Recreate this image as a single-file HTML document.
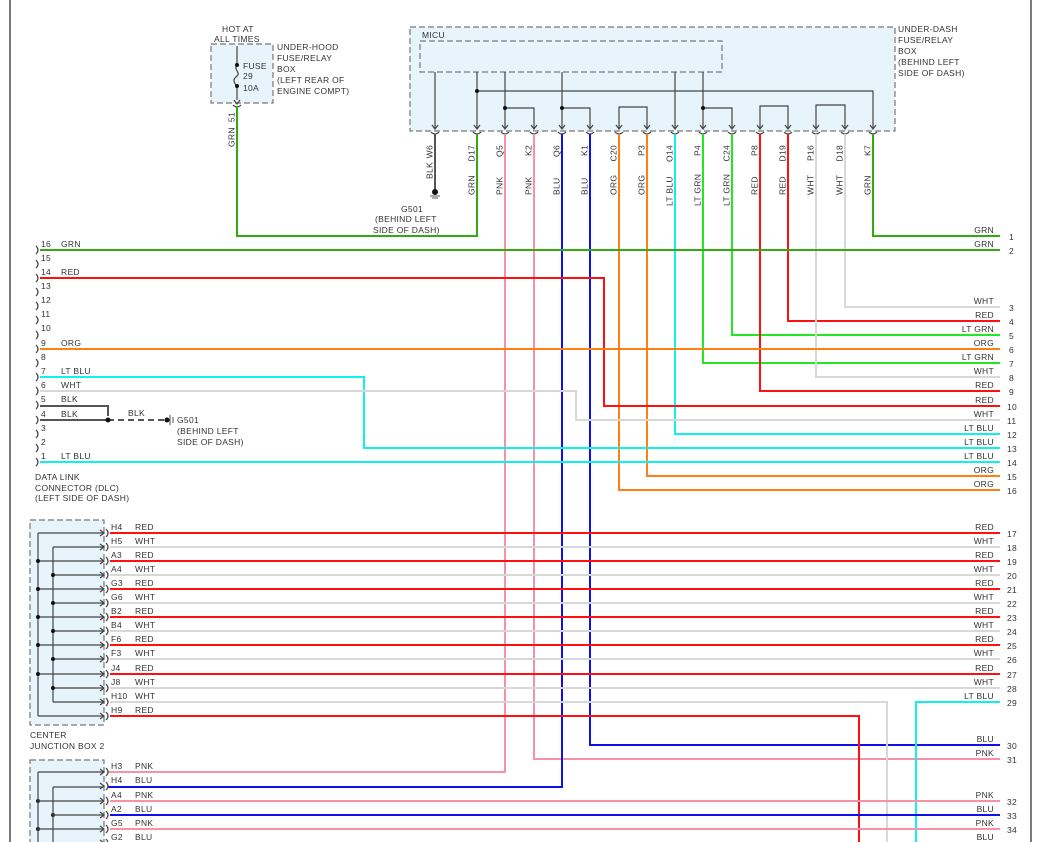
<!DOCTYPE html>
<html><head><meta charset="utf-8"><style>
html,body{margin:0;padding:0;background:#fff}
svg{display:block}
text{font-family:"Liberation Sans",sans-serif;font-size:8.5px;fill:#333;letter-spacing:.3px}
.w{fill:none;stroke-width:2}
.g{stroke:#33aa11}.r{stroke:#ff1010}.o{stroke:#ff8010}.c{stroke:#10f0f0}.lg{stroke:#22e822}
.wh{stroke:#d8d8d8}.b{stroke:#1010ee}.p{stroke:#f890a8}.k{stroke:#555}
.i{fill:none;stroke:#444;stroke-width:1.2}
.bx{fill:#e8f4fb;stroke:#777;stroke-width:1.2;stroke-dasharray:6,3}
.e{text-anchor:end}
</style></head><body>
<svg width="1040" height="842" viewBox="0 0 1040 842" xmlns="http://www.w3.org/2000/svg">
<line x1="10" y1="0" x2="10" y2="842" stroke="#222" stroke-width="1.2"/>
<line x1="1031" y1="0" x2="1031" y2="842" stroke="#222" stroke-width="1.2"/>

<rect class="bx" x="211" y="44" width="62" height="59"/>
<rect class="bx" x="410" y="27" width="485" height="104"/>
<rect class="bx" x="420" y="41" width="302" height="31"/>
<rect class="bx" x="30" y="520" width="74" height="205"/>
<rect class="bx" x="30" y="760" width="74" height="90"/>

<path class="i" d="M237 46V65M237 86V100"/>
<path class="i" d="M237 65c-4 4 4 8 0 11s-4 6 0 10"/>
<circle cx="237" cy="65" r="2" fill="#111"/><circle cx="237" cy="86" r="2" fill="#111"/>
<text x="222" y="32">HOT AT</text><text x="214" y="42">ALL TIMES</text>
<text x="243" y="69">FUSE</text><text x="243" y="79">29</text><text x="243" y="91">10A</text>
<text x="277" y="50">UNDER-HOOD</text><text x="277" y="61">FUSE/RELAY</text><text x="277" y="72">BOX</text><text x="277" y="83">(LEFT REAR OF</text><text x="277" y="94">ENGINE COMPT)</text>
<text x="422" y="38">MICU</text>
<text x="898" y="32">UNDER-DASH</text><text x="898" y="43">FUSE/RELAY</text><text x="898" y="54">BOX</text><text x="898" y="65">(BEHIND LEFT</text><text x="898" y="76">SIDE OF DASH)</text>

<path class="i" d="M435 72V128M477 72V128M505 72V128M562 72V128M675 72V128M703 72V128"/>
<path class="i" d="M477 91H873V128M505 108H534V128M562 108H590V128M703 108H732V128M619 128V107H647V128M760 128V106H788V128M816 128V105H845V128"/>
<g fill="#111"><circle cx="477" cy="91" r="2"/><circle cx="505" cy="108" r="2"/><circle cx="562" cy="108" r="2"/><circle cx="703" cy="108" r="2"/></g>
<g class="i">
<path d="M432 125l3 4 3-4M474 125l3 4 3-4M502 125l3 4 3-4M531 125l3 4 3-4M559 125l3 4 3-4M587 125l3 4 3-4M616 125l3 4 3-4M644 125l3 4 3-4M672 125l3 4 3-4M700 125l3 4 3-4M729 125l3 4 3-4M757 125l3 4 3-4M785 125l3 4 3-4M813 125l3 4 3-4M842 125l3 4 3-4M870 125l3 4 3-4M234 100l3 4 3-4"/>
<path d="M431 132q4 4 8 0M473 132q4 4 8 0M501 132q4 4 8 0M530 132q4 4 8 0M558 132q4 4 8 0M586 132q4 4 8 0M615 132q4 4 8 0M643 132q4 4 8 0M671 132q4 4 8 0M699 132q4 4 8 0M728 132q4 4 8 0M756 132q4 4 8 0M784 132q4 4 8 0M812 132q4 4 8 0M841 132q4 4 8 0M869 132q4 4 8 0M233 105q4 4 8 0"/>
</g>

<g>
<text transform="translate(234.5,112) rotate(-90)" class="e">51</text>
<text transform="translate(234.5,147) rotate(-90)">GRN</text>
<text transform="translate(432.5,145) rotate(-90)" class="e">W6</text>
<text transform="translate(432.5,179) rotate(-90)">BLK</text>
<text transform="translate(474.5,145) rotate(-90)" class="e">D17</text><text transform="translate(474.5,195) rotate(-90)">GRN</text>
<text transform="translate(502.5,145) rotate(-90)" class="e">Q5</text><text transform="translate(502.5,195) rotate(-90)">PNK</text>
<text transform="translate(531.5,145) rotate(-90)" class="e">K2</text><text transform="translate(531.5,195) rotate(-90)">PNK</text>
<text transform="translate(559.5,145) rotate(-90)" class="e">Q6</text><text transform="translate(559.5,195) rotate(-90)">BLU</text>
<text transform="translate(587.5,145) rotate(-90)" class="e">K1</text><text transform="translate(587.5,195) rotate(-90)">BLU</text>
<text transform="translate(616.5,145) rotate(-90)" class="e">C20</text><text transform="translate(616.5,195) rotate(-90)">ORG</text>
<text transform="translate(644.5,145) rotate(-90)" class="e">P3</text><text transform="translate(644.5,195) rotate(-90)">ORG</text>
<text transform="translate(672.5,145) rotate(-90)" class="e">O14</text><text transform="translate(672.5,206) rotate(-90)">LT BLU</text>
<text transform="translate(700.5,145) rotate(-90)" class="e">P4</text><text transform="translate(700.5,206) rotate(-90)">LT GRN</text>
<text transform="translate(729.5,145) rotate(-90)" class="e">C24</text><text transform="translate(729.5,206) rotate(-90)">LT GRN</text>
<text transform="translate(757.5,145) rotate(-90)" class="e">P8</text><text transform="translate(757.5,195) rotate(-90)">RED</text>
<text transform="translate(785.5,145) rotate(-90)" class="e">D19</text><text transform="translate(785.5,195) rotate(-90)">RED</text>
<text transform="translate(813.5,145) rotate(-90)" class="e">P16</text><text transform="translate(813.5,195) rotate(-90)">WHT</text>
<text transform="translate(842.5,145) rotate(-90)" class="e">D18</text><text transform="translate(842.5,195) rotate(-90)">WHT</text>
<text transform="translate(870.5,145) rotate(-90)" class="e">K7</text><text transform="translate(870.5,195) rotate(-90)">GRN</text>
</g>

<path class="w k" d="M435 134V190"/>
<circle cx="435" cy="192" r="3" fill="#111"/><path d="M430 196h10M432 198h6" stroke="#555"/>
<text x="401" y="212">G501</text><text x="375" y="222">(BEHIND LEFT</text><text x="373" y="233">SIDE OF DASH)</text>

<path class="w g" d="M477 134V236H237V106"/>
<path class="w g" d="M873 134V236H1000"/>
<path class="w p" d="M505 134V772H108"/>
<path class="w p" d="M534 134V759H1000"/>
<path class="w b" d="M562 134V787H108"/>
<path class="w b" d="M590 134V745H1000"/>
<path class="w o" d="M619 134V490H1000"/>
<path class="w o" d="M647 134V476H1000"/>
<path class="w c" d="M675 134V434H1000"/>
<path class="w lg" d="M703 134V363H1000"/>
<path class="w lg" d="M732 134V335H1000"/>
<path class="w r" d="M760 134V391H1000"/>
<path class="w r" d="M788 134V321H1000"/>
<path class="w wh" d="M816 134V377H1000"/>
<path class="w wh" d="M845 134V307H1000"/>

<path class="w g" d="M40 250H1000"/>
<path class="w r" d="M40 278H604V406H1000"/>
<path class="w o" d="M40 349H1000"/>
<path class="w c" d="M40 377H364V448H1000"/>
<path class="w wh" d="M40 391H576V420H1000"/>
<path class="w c" d="M40 462H1000"/>
<path class="w k" d="M40 406H108V416M40 420H108"/>
<path d="M108 420H167" stroke="#555" stroke-width="2" stroke-dasharray="6,4"/>
<circle cx="108" cy="420" r="2.5" fill="#111"/><circle cx="167" cy="420" r="2.5" fill="#111"/>
<path d="M170 415v10M173 417v6" stroke="#555"/>
<text x="128" y="416">BLK</text>
<text x="177" y="423">G501</text><text x="177" y="434">(BEHIND LEFT</text><text x="177" y="445">SIDE OF DASH)</text>
<g class="i">
<path d="M36 246q4 4 0 8M36 260q4 4 0 8M36 274q4 4 0 8M36 288q4 4 0 8M36 302q4 4 0 8M36 316q4 4 0 8M36 331q4 4 0 8M36 345q4 4 0 8M36 359q4 4 0 8M36 373q4 4 0 8M36 387q4 4 0 8M36 401q4 4 0 8M36 416q4 4 0 8M36 430q4 4 0 8M36 444q4 4 0 8M36 458q4 4 0 8"/>
</g>
<text x="41" y="247">16</text><text x="41" y="261">15</text><text x="41" y="275">14</text><text x="41" y="289">13</text><text x="41" y="303">12</text><text x="41" y="317">11</text><text x="41" y="331">10</text><text x="41" y="346">9</text><text x="41" y="360">8</text><text x="41" y="374">7</text><text x="41" y="388">6</text><text x="41" y="402">5</text><text x="41" y="417">4</text><text x="41" y="431">3</text><text x="41" y="445">2</text><text x="41" y="459">1</text>
<text x="61" y="247">GRN</text><text x="61" y="275">RED</text><text x="61" y="346">ORG</text><text x="61" y="374">LT BLU</text><text x="61" y="388">WHT</text><text x="61" y="402">BLK</text><text x="61" y="417">BLK</text><text x="61" y="459">LT BLU</text>
<text x="35" y="480">DATA LINK</text><text x="35" y="491">CONNECTOR (DLC)</text><text x="35" y="501">(LEFT SIDE OF DASH)</text>

<path class="w r" d="M110 533H1000M110 561H1000M110 589H1000M110 617H1000M110 645H1000M110 674H1000"/>
<path class="w wh" d="M110 547H1000M110 575H1000M110 603H1000M110 631H1000M110 659H1000M110 688H1000"/>
<path class="w wh" d="M110 702H887V842"/>
<path class="w r" d="M110 716H859V842"/>
<path class="w c" d="M1000 702H916V842"/>
<path class="i" d="M38 533V716M53 547V702M38 533H103M38 561H103M38 589H103M38 617H103M38 645H103M38 674H103M38 716H103M53 547H103M53 575H103M53 603H103M53 631H103M53 659H103M53 688H103M53 702H103"/>
<g fill="#111"><circle cx="38" cy="561" r="2"/><circle cx="38" cy="589" r="2"/><circle cx="38" cy="617" r="2"/><circle cx="38" cy="645" r="2"/><circle cx="38" cy="674" r="2"/><circle cx="53" cy="575" r="2"/><circle cx="53" cy="603" r="2"/><circle cx="53" cy="631" r="2"/><circle cx="53" cy="659" r="2"/><circle cx="53" cy="688" r="2"/>
<circle cx="38" cy="801" r="2"/><circle cx="38" cy="829" r="2"/><circle cx="53" cy="815" r="2"/></g>
<g class="i">
<path d="M100 530l4 3-4 3M100 544l4 3-4 3M100 558l4 3-4 3M100 572l4 3-4 3M100 586l4 3-4 3M100 600l4 3-4 3M100 614l4 3-4 3M100 628l4 3-4 3M100 642l4 3-4 3M100 656l4 3-4 3M100 671l4 3-4 3M100 685l4 3-4 3M100 699l4 3-4 3M100 713l4 3-4 3M100 769l4 3-4 3M100 783l4 3-4 3M100 798l4 3-4 3M100 812l4 3-4 3M100 826l4 3-4 3M100 840l4 3-4 3"/>
<path d="M106 529q4 4 0 8M106 543q4 4 0 8M106 557q4 4 0 8M106 571q4 4 0 8M106 585q4 4 0 8M106 599q4 4 0 8M106 613q4 4 0 8M106 627q4 4 0 8M106 641q4 4 0 8M106 655q4 4 0 8M106 670q4 4 0 8M106 684q4 4 0 8M106 698q4 4 0 8M106 712q4 4 0 8M106 768q4 4 0 8M106 782q4 4 0 8M106 797q4 4 0 8M106 811q4 4 0 8M106 825q4 4 0 8M106 839q4 4 0 8"/>
</g>
<g>
<text x="111" y="530">H4</text><text x="135" y="530">RED</text>
<text x="111" y="544">H5</text><text x="135" y="544">WHT</text>
<text x="111" y="558">A3</text><text x="135" y="558">RED</text>
<text x="111" y="572">A4</text><text x="135" y="572">WHT</text>
<text x="111" y="586">G3</text><text x="135" y="586">RED</text>
<text x="111" y="600">G6</text><text x="135" y="600">WHT</text>
<text x="111" y="614">B2</text><text x="135" y="614">RED</text>
<text x="111" y="628">B4</text><text x="135" y="628">WHT</text>
<text x="111" y="642">F6</text><text x="135" y="642">RED</text>
<text x="111" y="656">F3</text><text x="135" y="656">WHT</text>
<text x="111" y="671">J4</text><text x="135" y="671">RED</text>
<text x="111" y="685">J8</text><text x="135" y="685">WHT</text>
<text x="111" y="699">H10</text><text x="135" y="699">WHT</text>
<text x="111" y="713">H9</text><text x="135" y="713">RED</text>
</g>
<text x="30" y="738">CENTER</text><text x="30" y="749">JUNCTION BOX 2</text>

<path class="w p" d="M110 801H1000M110 829H1000"/>
<path class="w b" d="M110 815H1000M110 843H1000"/>
<path class="i" d="M38 772V842M53 787V842M38 772H103M38 801H103M38 829H103M53 787H103M53 815H103M53 843H103"/>
<text x="111" y="769">H3</text><text x="135" y="769">PNK</text>
<text x="111" y="783">H4</text><text x="135" y="783">BLU</text>
<text x="111" y="798">A4</text><text x="135" y="798">PNK</text>
<text x="111" y="812">A2</text><text x="135" y="812">BLU</text>
<text x="111" y="826">G5</text><text x="135" y="826">PNK</text>
<text x="111" y="840">G2</text><text x="135" y="840">BLU</text>

<g class="e">
<text x="994" y="233" class="e">GRN</text><text x="994" y="247" class="e">GRN</text>
<text x="994" y="304" class="e">WHT</text><text x="994" y="318" class="e">RED</text><text x="994" y="332" class="e">LT GRN</text><text x="994" y="346" class="e">ORG</text><text x="994" y="360" class="e">LT GRN</text><text x="994" y="374" class="e">WHT</text><text x="994" y="388" class="e">RED</text><text x="994" y="403" class="e">RED</text><text x="994" y="417" class="e">WHT</text><text x="994" y="431" class="e">LT BLU</text><text x="994" y="445" class="e">LT BLU</text><text x="994" y="459" class="e">LT BLU</text><text x="994" y="473" class="e">ORG</text><text x="994" y="487" class="e">ORG</text>
<text x="994" y="530" class="e">RED</text><text x="994" y="544" class="e">WHT</text><text x="994" y="558" class="e">RED</text><text x="994" y="572" class="e">WHT</text><text x="994" y="586" class="e">RED</text><text x="994" y="600" class="e">WHT</text><text x="994" y="614" class="e">RED</text><text x="994" y="628" class="e">WHT</text><text x="994" y="642" class="e">RED</text><text x="994" y="656" class="e">WHT</text><text x="994" y="671" class="e">RED</text><text x="994" y="685" class="e">WHT</text><text x="994" y="699" class="e">LT BLU</text>
<text x="994" y="742" class="e">BLU</text><text x="994" y="756" class="e">PNK</text>
<text x="994" y="798" class="e">PNK</text><text x="994" y="812" class="e">BLU</text><text x="994" y="826" class="e">PNK</text><text x="994" y="840" class="e">BLU</text>
</g>
<g>
<text x="1009" y="240">1</text><text x="1009" y="254">2</text><text x="1009" y="311">3</text><text x="1009" y="325">4</text><text x="1009" y="339">5</text><text x="1009" y="353">6</text><text x="1009" y="367">7</text><text x="1009" y="381">8</text><text x="1009" y="395">9</text>
<text x="1007" y="410">10</text><text x="1007" y="424">11</text><text x="1007" y="438">12</text><text x="1007" y="452">13</text><text x="1007" y="466">14</text><text x="1007" y="480">15</text><text x="1007" y="494">16</text>
<text x="1007" y="537">17</text><text x="1007" y="551">18</text><text x="1007" y="565">19</text><text x="1007" y="579">20</text><text x="1007" y="593">21</text><text x="1007" y="607">22</text><text x="1007" y="621">23</text><text x="1007" y="635">24</text><text x="1007" y="649">25</text><text x="1007" y="663">26</text><text x="1007" y="678">27</text><text x="1007" y="692">28</text><text x="1007" y="706">29</text>
<text x="1007" y="749">30</text><text x="1007" y="763">31</text><text x="1007" y="805">32</text><text x="1007" y="819">33</text><text x="1007" y="833">34</text>
</g>
</svg>
</body></html>
